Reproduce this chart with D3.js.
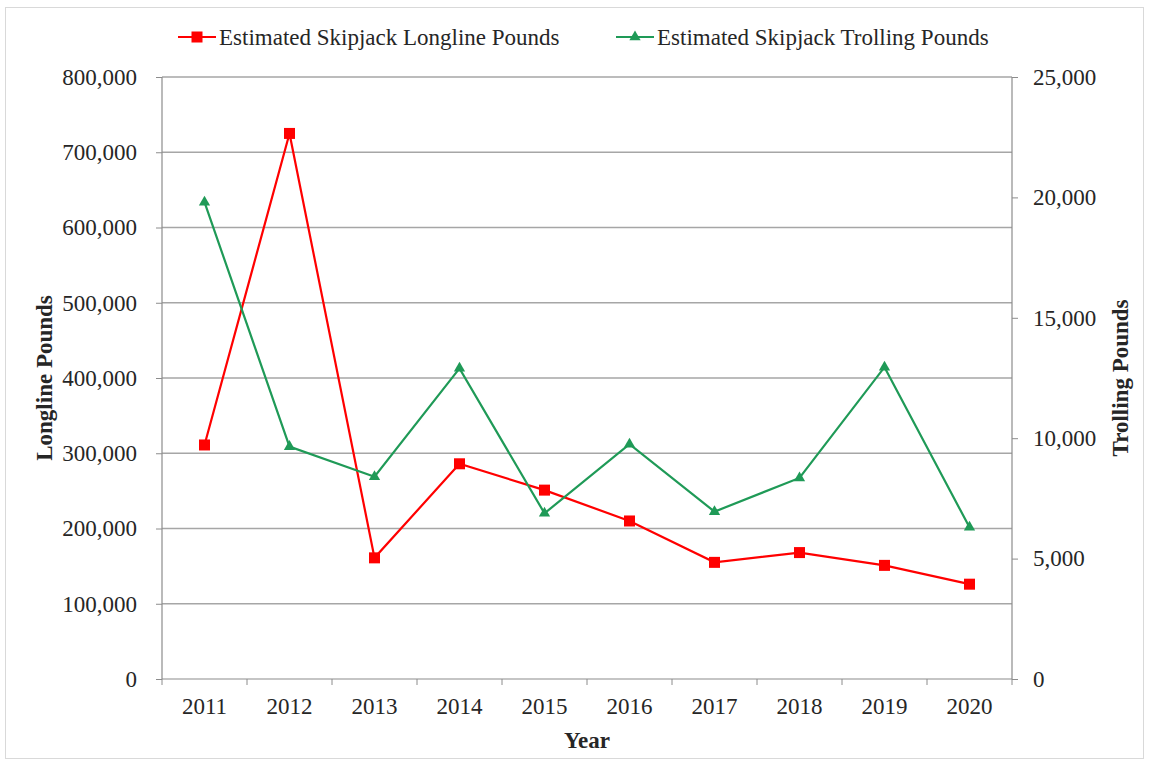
<!DOCTYPE html>
<html>
<head>
<meta charset="utf-8">
<script src="https://cdn.jsdelivr.net/npm/d3@7"></script>
<style>
  body { margin: 0; background: #fff; }
  text { font-family: "Liberation Serif", "Times New Roman", serif; fill: #262626; }
</style>
</head>
<body>
<div id="chart"></div>
<script>
// chart data
const years = ["2011", "2012", "2013", "2014", "2015", "2016", "2017", "2018", "2019", "2020"];
const longlinePounds = [311000, 725000, 161000, 286000, 251000, 210000, 155000, 168000, 151000, 126000];
const trollingPounds = [19800, 9650, 8400, 12900, 6880, 9750, 6950, 8350, 12950, 6300];
const leftTicks = [0, 100000, 200000, 300000, 400000, 500000, 600000, 700000, 800000];
const rightTicks = [0, 5000, 10000, 15000, 20000, 25000];
const seriesNames = ["Estimated Skipjack Longline Pounds", "Estimated Skipjack Trolling Pounds"];

const W = 1149, H = 769;
const margin = {top: 77, right: 137, bottom: 90, left: 162};
const innerW = W - margin.left - margin.right;
const innerH = H - margin.top - margin.bottom;

const red = "#ff0000", green = "#1f9a57", gridCol = "#a6a6a6", axisCol = "#8c8c8c";
const fontSize = 23;
const fmt = d3.format(",");

const svg = d3.select("#chart").append("svg")
    .attr("width", W)
    .attr("height", H);

// outer frame
svg.append("rect")
    .attr("x", 5.5).attr("y", 7.5)
    .attr("width", 1138).attr("height", 751)
    .attr("fill", "#fff")
    .attr("stroke", "#d9d9d9");

const g = svg.append("g")
    .attr("transform", `translate(${margin.left},${margin.top})`);

const x = d3.scaleBand().domain(years).range([0, innerW]);
const yL = d3.scaleLinear().domain([0, 800000]).range([innerH, 0]);
const yR = d3.scaleLinear().domain([0, 25000]).range([innerH, 0]);

// gridlines
g.append("g")
    .selectAll("line")
    .data(leftTicks.filter(d => d > 0))
    .enter().append("line")
    .attr("x1", 0).attr("x2", innerW)
    .attr("y1", d => yL(d)).attr("y2", d => yL(d))
    .attr("stroke", gridCol)
    .attr("stroke-width", 1.3);

// left axis
const axL = g.append("g")
    .call(d3.axisLeft(yL).tickValues(leftTicks).tickFormat(fmt).tickSize(6).tickPadding(19));
// right axis
const axR = g.append("g")
    .attr("transform", `translate(${innerW},0)`)
    .call(d3.axisRight(yR).tickValues(rightTicks).tickFormat(fmt).tickSize(6).tickPadding(15));
// bottom axis: ticks on the band edges
const axB = g.append("g")
    .attr("transform", `translate(0,${innerH})`)
    .call(d3.axisBottom(x).tickSize(0).tickPadding(19));
axB.selectAll(".edge")
    .data(d3.range(years.length + 1))
    .enter().append("line")
    .attr("class", "edge")
    .attr("x1", i => i * x.step()).attr("x2", i => i * x.step())
    .attr("y1", 0).attr("y2", 6)
    .attr("stroke", axisCol);

[axL, axR, axB].forEach(ax => {
    ax.select(".domain").attr("stroke", axisCol).attr("stroke-width", 1.2);
    ax.selectAll(".tick line").attr("stroke", axisCol);
    ax.selectAll("text")
        .attr("font-family", "Liberation Serif, Times New Roman, serif")
        .attr("font-size", fontSize)
        .attr("fill", "#262626");
});
axL.select(".domain").attr("d", `M0,${innerH}V0`);
axR.select(".domain").attr("d", `M0,${innerH}V0`);
axB.select(".domain").attr("d", `M0,0H${innerW}`);

// axis titles
svg.append("text")
    .attr("transform", `translate(52,${margin.top + innerH / 2}) rotate(-90)`)
    .attr("text-anchor", "middle")
    .attr("font-size", fontSize).attr("font-weight", "bold")
    .text("Longline Pounds");
svg.append("text")
    .attr("transform", `translate(1128,${margin.top + innerH / 2}) rotate(-90)`)
    .attr("text-anchor", "middle")
    .attr("font-size", fontSize).attr("font-weight", "bold")
    .text("Trolling Pounds");
svg.append("text")
    .attr("x", margin.left + innerW / 2).attr("y", 748)
    .attr("text-anchor", "middle")
    .attr("font-size", fontSize).attr("font-weight", "bold")
    .text("Year");

const cx = d => x(d) + x.bandwidth() / 2;

// longline series
g.append("path")
    .datum(longlinePounds)
    .attr("fill", "none").attr("stroke", red).attr("stroke-width", 2.2)
    .attr("d", d3.line().x((d, i) => cx(years[i])).y(d => yL(d)));
g.selectAll(".sq")
    .data(longlinePounds)
    .enter().append("rect")
    .attr("class", "sq")
    .attr("x", (d, i) => cx(years[i]) - 5.5)
    .attr("y", d => yL(d) - 5.5)
    .attr("width", 11).attr("height", 11)
    .attr("fill", red);

// trolling series
const tri = d3.symbol().type(d3.symbolTriangle).size(55);
g.append("path")
    .datum(trollingPounds)
    .attr("fill", "none").attr("stroke", green).attr("stroke-width", 2.2)
    .attr("d", d3.line().x((d, i) => cx(years[i])).y(d => yR(d)));
g.selectAll(".tri")
    .data(trollingPounds)
    .enter().append("path")
    .attr("class", "tri")
    .attr("transform", (d, i) => `translate(${cx(years[i])},${yR(d)})`)
    .attr("d", tri)
    .attr("fill", green);

// legend
const legend = svg.append("g");
const legendItems = [
    {name: seriesNames[0], color: red, x0: 178, shape: "square"},
    {name: seriesNames[1], color: green, x0: 616, shape: "triangle"}
];
legendItems.forEach(it => {
    const lg = legend.append("g").attr("transform", `translate(${it.x0},37)`);
    lg.append("line")
        .attr("x1", 0).attr("x2", 38).attr("y1", 0).attr("y2", 0)
        .attr("stroke", it.color).attr("stroke-width", 2.2);
    if (it.shape === "square")
        lg.append("rect").attr("x", 19 - 5.5).attr("y", -5.5)
            .attr("width", 11).attr("height", 11).attr("fill", it.color);
    else
        lg.append("path").attr("transform", "translate(19,0)")
            .attr("d", tri).attr("fill", it.color);
    lg.append("text")
        .attr("x", 41).attr("y", 8)
        .attr("font-size", fontSize)
        .text(it.name);
});
</script>
</body>
</html>
